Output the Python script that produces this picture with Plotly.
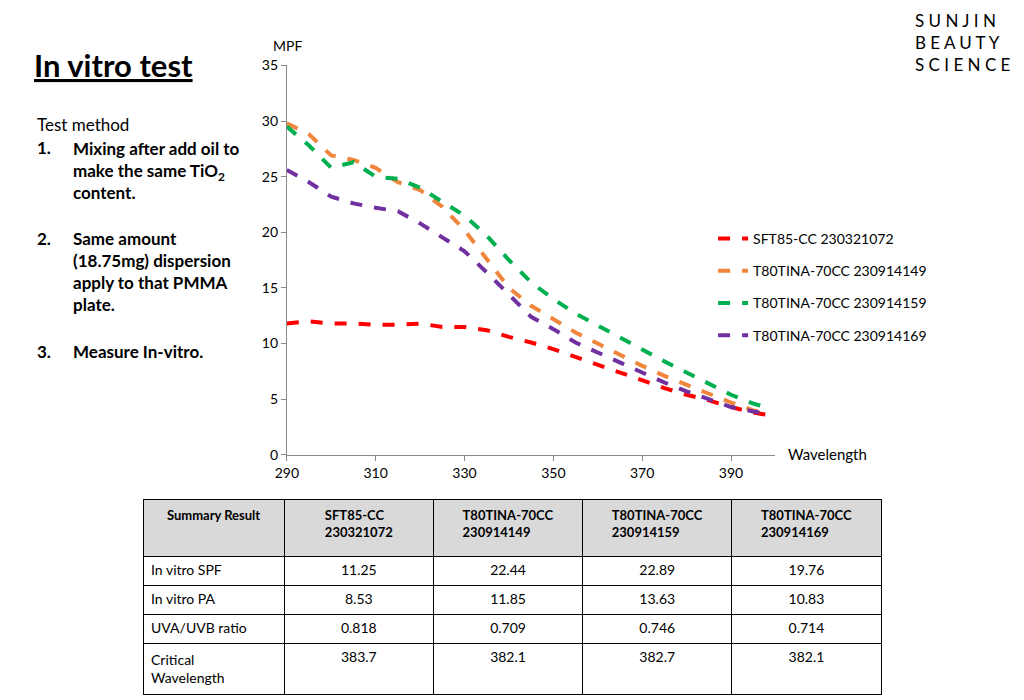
import plotly.graph_objects as go

wl = [290,295,300,305,310,315,320,325,330,335,340,345,350,355,360,365,370,375,380,385,390,395,398]
sft85 = [11.8,12.0,11.8,11.8,11.7,11.7,11.8,11.5,11.5,11.2,10.6,10.1,9.5,8.8,8.1,7.4,6.7,6.0,5.4,4.9,4.3,3.8,3.6]
t149 = [29.8,28.8,26.9,26.5,25.8,24.5,23.8,22.3,20.2,17.6,15.0,13.4,12.2,11.0,10.0,9.0,8.0,7.1,6.3,5.5,4.7,4.0,3.7]
t159 = [29.5,27.8,25.8,26.3,25.0,24.8,24.0,22.8,21.5,19.7,17.5,15.5,14.0,12.7,11.6,10.5,9.5,8.4,7.4,6.4,5.4,4.6,4.3]
t169 = [25.6,24.5,23.2,22.6,22.2,21.9,20.8,19.6,18.3,16.4,14.4,12.4,11.3,10.1,9.2,8.3,7.4,6.5,5.7,5.0,4.3,3.9,3.7]
names = ["SFT85-CC 230321072","T80TINA-70CC 230914149","T80TINA-70CC 230914159","T80TINA-70CC 230914169"]
colors = ["#ff0000","#f0853c","#00b050","#7030a0"]

tbl_header = ["<b>Summary Result</b>","<b>SFT85-CC<br>230321072</b>","<b>T80TINA-70CC<br>230914149</b>",
              "<b>T80TINA-70CC<br>230914159</b>","<b>T80TINA-70CC<br>230914169</b>"]
row_labels = ["In vitro SPF","In vitro PA","UVA/UVB ratio","Critical<br>Wavelength"]
col1 = ["11.25","8.53","0.818","383.7"]
col2 = ["22.44","11.85","0.709","382.1"]
col3 = ["22.89","13.63","0.746","382.7"]
col4 = ["19.76","10.83","0.714","382.1"]

def px(t):
    return ((t - 22.6) / 0.983) / 1024
def py(t):
    return 1 - ((t - 16.8) / 0.972) / 700

F = "Lato"
fig = go.Figure()
for ys, n, c in zip([sft85,t149,t159,t169], names, colors):
    fig.add_trace(go.Scatter(x=wl, y=ys, name=n, mode="lines", legendgroup=n,
                             line=dict(color=c, width=4, dash="dash")))

fig.add_trace(go.Table(
    domain=dict(x=[px(145), px(880)], y=[max(0, py(700)), py(497)]),
    columnwidth=[140,148,148,148,148],
    header=dict(values=tbl_header, fill_color="#d9d9d9", line_color="black",
                font=dict(family=F, size=13, color="black"), height=57, align="center"),
    cells=dict(values=[row_labels,col1,col2,col3,col4], fill_color="white", line_color="black",
               font=dict(family=F, size=14, color="black"), height=29,
               align=["left","center","center","center","center"])))

fig.update_layout(
    width=1024, height=700, margin=dict(l=0,r=0,t=0,b=0),
    paper_bgcolor="white", plot_bgcolor="white",
    font=dict(family=F, size=13, color="black"),
    xaxis=dict(domain=[px(288), px(774)], range=[290,400], tickvals=[290,310,330,350,370,390],
               showgrid=False, showline=True, linecolor="#888", ticks="outside", tickcolor="#888",
               ticklen=5, zeroline=False, tickfont=dict(size=14)),
    yaxis=dict(domain=[py(453), py(65)], range=[0,35], dtick=5, showgrid=False,
               showline=True, linecolor="#888", ticks="outside", tickcolor="#888", ticklen=5,
               zeroline=False, tickfont=dict(size=14)),
    legend=dict(x=px(712), y=py(222), xanchor="left", yanchor="top", tracegroupgap=11,
                font=dict(size=14), bgcolor="rgba(0,0,0,0)"),
)

ann = [
    dict(x=35, y=65, text="<b><u>In vitro test</u></b>", size=31, xa="left"),
    dict(x=38, y=124, text="Test method", size=17, xa="left"),
    dict(x=38, y=147, text="<b>1.</b>", size=17, xa="left"),
    dict(x=73, y=170, text="<b>Mixing after add oil to<br>make the same TiO<sub>2</sub><br>content.</b>", size=17, xa="left"),
    dict(x=38, y=237, text="<b>2.</b>", size=17, xa="left"),
    dict(x=73, y=270, text="<b>Same amount<br>(18.75mg) dispersion<br>apply to that PMMA<br>plate.</b>", size=17, xa="left"),
    dict(x=38, y=350, text="<b>3.</b>", size=17, xa="left"),
    dict(x=73, y=350, text="<b>Measure In-vitro.</b>", size=17, xa="left"),
    dict(x=1010, y=42, text="S U N J I N<br>B E A U T Y<br>S C I E N C E", size=17, xa="right"),
    dict(x=272, y=45, text="MPF", size=14, xa="left"),
    dict(x=785, y=452, text="Wavelength", size=15, xa="left"),
]
for a in ann:
    fig.add_annotation(x=px(a["x"]), y=py(a["y"]), xref="paper", yref="paper", text=a["text"],
                       showarrow=False, xanchor=a["xa"], yanchor="middle", align="left",
                       font=dict(family=F, size=a["size"], color="black"))

fig.write_html("out.html")
